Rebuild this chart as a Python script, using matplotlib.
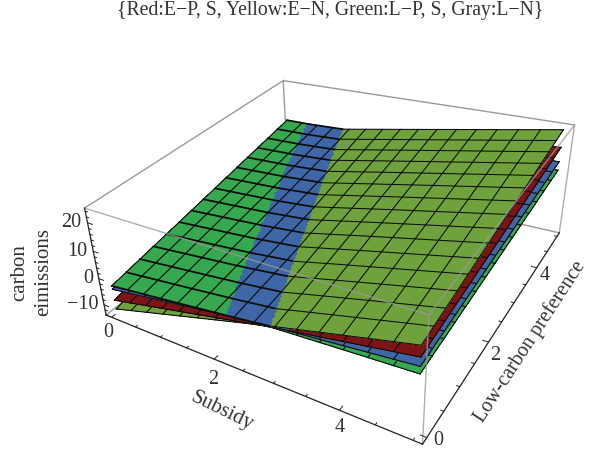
import numpy as np
import matplotlib
matplotlib.use("Agg")
import matplotlib.pyplot as plt
from mpl_toolkits.mplot3d import proj3d

plt.rcParams['font.family'] = ['Liberation Serif', 'DejaVu Serif']

# values (carbon emissions at each knot)
subsidy_knots = [0, 1, 2, 3, 4, 5]
preference_knots = [0, 2.5, 5]

bright_green = [[-3.5, -1.3, 1.0, 3.1, 4.2, 5.2],
                [3.25, 4.35, 5.5, 6.55, 7.1, 7.6],
                [10.0, 10.0, 10.0, 10.0, 10.0, 10.0]]
blue = [[-4.8, -1.95, 0.9, 3.5, 5.5, 7.5],
        [2.45, 4.2, 5.95, 7.6, 8.9, 10.25],
        [9.7, 10.4, 11.0, 11.7, 12.3, 13.0]]
dark_red = [[-9.0, -4.9, -0.8, 3.3, 6.8, 10.3],
            [-1.0, 2.15, 5.3, 8.45, 11.3, 14.15],
            [7.0, 9.2, 11.4, 13.6, 15.8, 18.0]]
olive = [[-12.4, -7.0, -1.6, 3.7, 8.8, 13.8],
         [-3.1, 1.4, 5.85, 10.3, 14.6, 18.9],
         [6.2, 9.8, 13.3, 16.9, 20.4, 24.0]]

surfaces = [bright_green, blue, dark_red, olive]
surface_colors = ['#36a84f', '#3f66a6', '#7d1518', '#6fa23d']

x_ticks_major = [0, 2, 4]
y_ticks_major = [0, 2, 4]
z_ticks_major = [-10, 0, 10, 20]

title = "{Red:E\u2212P, S, Yellow:E\u2212N, Green:L\u2212P, S, Gray:L\u2212N}"

W, H = 590, 451
x0, x1 = -0.12, 5.12
y0, y1 = -0.12, 5.12
z0, z1 = -14, 25

# box corners in the picture, used to set up the camera
corners_3d = [(x0, y0, z0), (x1, y0, z0), (x1, y1, z0),
              (x0, y0, z1), (x1, y0, z1), (x1, y1, z1), (x0, y1, z1)]
corners_px = [(105, 318), (423, 440), (560, 233),
              (86, 203), (428, 322), (574, 123), (283, 82)]


def fit_camera(ax):
    ax.apply_aspect()
    inv = ax.transData.inverted()
    rows = []
    for (X, Y, Z), (px, py) in zip(corners_3d, corners_px):
        u, v = inv.transform((px, H - py))
        p = [X, Y, Z, 1]
        rows.append(p + [0, 0, 0, 0] + [-u * c for c in p])
        rows.append([0, 0, 0, 0] + p + [-v * c for c in p])
    P = np.linalg.svd(np.array(rows))[2][-1].reshape(3, 4)
    # keep w near 1 and positive, mplot3d drops line points with depth >= 0
    P = P / (P[2] @ [2.5, 2.5, 5, 1])
    return np.array([P[0], P[1], [0, 0, 0, -1], P[2]])


def resample(table, xs, ys):
    # knots to drawing grid, only for the mesh rendering
    by_x = np.array([np.interp(xs, subsidy_knots, row) for row in table])
    return np.array([np.interp(ys, preference_knots, by_x[:, i]) for i in range(len(xs))]).T


fig = plt.figure(figsize=(W / 100, H / 100), dpi=100)
ax = fig.add_axes([0, -(W - H) / 2 / H, 1, W / H], projection='3d', computed_zorder=False)
ax.set_axis_off()
M = fit_camera(ax)
ax.get_proj = lambda: M


def to_2d(x, y, z):
    sx, sy, _ = proj3d.proj_transform(x, y, z, M)
    return sx, sy


# fine grid for the colour borders, 15 mesh cells per side
n_cells = 15
sub = 12
xs = np.linspace(0, 5, n_cells * sub + 1)
ys = np.linspace(0, 5, n_cells * sub + 1)
X, Y = np.meshgrid(xs, ys)
Z = np.array([resample(s, xs, ys) for s in surfaces])

order = np.argsort(Z, axis=0)
Z_sorted = np.take_along_axis(Z, order, axis=0)
rgba = np.array([matplotlib.colors.to_rgba(c) for c in surface_colors])

# back box edges
gray = '#9a9a9a'
back = [[(x0, y1, z1), (x0, y0, z1)], [(x0, y1, z1), (x1, y1, z1)],
        [(x0, y1, z1), (x0, y1, z0)], [(x0, y1, z0), (x0, y0, z0)],
        [(x0, y1, z0), (x1, y1, z0)]]
for a, b in back:
    ax.plot(*zip(a, b), color=gray, lw=1.0, zorder=-1)

ink = '#0c0c0c'
for r in range(4):
    stride = 1 if r == 3 else 4
    ax.plot_surface(X, Y, Z_sorted[r], facecolors=rgba[order[r]], rstride=stride, cstride=stride,
                    shade=False, linewidth=0, antialiased=False, zorder=r)
    if r < 3:
        for i in range(0, n_cells * sub + 1, sub):
            ax.plot(X[i], Y[i], Z_sorted[r][i], color=ink, lw=0.8, zorder=r + 0.5)
            ax.plot(X[:, i], Y[:, i], Z_sorted[r][:, i], color=ink, lw=0.8, zorder=r + 0.5)

# top layer mesh: heavier where green and blue are on top
Z_top = Z_sorted[3]
Z_olive = np.where(order[3] == 3, Z_top, np.nan)
Z_other = np.where(order[3] != 3, Z_top, np.nan)
for i in range(0, n_cells * sub + 1, sub):
    ax.plot(X[i], Y[i], Z_olive[i], color=ink, lw=0.75, zorder=3.5)
    ax.plot(X[:, i], Y[:, i], Z_olive[:, i], color=ink, lw=0.75, zorder=3.5)
    ax.plot(X[i], Y[i], Z_other[i], color=ink, lw=1.25, zorder=3.5)
    ax.plot(X[:, i], Y[:, i], Z_other[:, i], color=ink, lw=0.8, zorder=3.5)

# front box edges, over the surfaces
front = [[(x0, y0, z1), (x1, y0, z1)], [(x1, y0, z1), (x1, y1, z1)],
         [(x1, y0, z1), (x1, y0, z0)], [(x1, y1, z1), (x1, y1, z0)]]
for a, b in front:
    ax.plot(*zip(a, b), color=gray, lw=1.0, alpha=0.8, zorder=10)

# axis lines with ticks
dark = '#222222'
ax.plot([x0, x1], [y0, y0], [z0, z0], color=dark, lw=0.9, zorder=11)
ax.plot([x1, x1], [y0, y1], [z0, z0], color=dark, lw=0.9, zorder=11)
ax.plot([x0, x0], [y0, y0], [z0, z1], color=dark, lw=0.9, zorder=11)

for t in np.arange(0, 5.01, 0.5):
    size = 0.08 if t % 2 == 0 else 0.04
    ax.plot([t, t], [y0, y0 + size], [z0, z0], color=dark, lw=0.7, zorder=11)
    ax.plot([x1, x1 - size], [t, t], [z0, z0], color=dark, lw=0.7, zorder=11)
for t in np.arange(-14, 25, 2):
    size = 0.1 if t % 10 == 0 else 0.05
    ax.plot([x0, x0 + size], [y0, y0], [t, t], color=dark, lw=0.7, zorder=11)

text_color = '#333333'


def tick_label(label, pos, off):
    ax.annotate(label, xy=to_2d(*pos), xytext=off, textcoords='offset pixels',
                ha='center', va='center', fontsize=14.5, color=text_color)


x_offsets = [(-3, -15), (-1, -20), (0, -17)]
y_offsets = [(11, -3), (7, -13), (8, -8)]
for t, off in zip(x_ticks_major, x_offsets):
    tick_label(str(t), (t, y0, z0), off)
for t, off in zip(y_ticks_major, y_offsets):
    tick_label(str(t), (x1, t, z0), off)
for t in z_ticks_major:
    label = str(t).replace('-', '\u2212')
    ax.annotate(label, xy=to_2d(x0, y0, t), xytext=(-6, 0), textcoords='offset pixels',
                ha='right', va='center', fontsize=14.5, color=text_color)

fig.text(330 / W, 1 - 11 / H, title, ha='center', va='center', fontsize=14.2, color=text_color)
fig.text(20 / W, 1 - 273 / H, 'carbon', rotation=90, ha='center', va='center', fontsize=15, color=text_color)
fig.text(44 / W, 1 - 272 / H, 'eimissions', rotation=90, ha='center', va='center', fontsize=15, color=text_color)
fig.text(222 / W, 1 - 411 / H, 'Subsidy', rotation=-26, ha='center', va='center', fontsize=15, color=text_color)
fig.text(530 / W, 1 - 342 / H, 'Low-carbon preference', rotation=57, ha='center', va='center', fontsize=14.5, color=text_color)

fig.savefig('out.png', dpi=100)
